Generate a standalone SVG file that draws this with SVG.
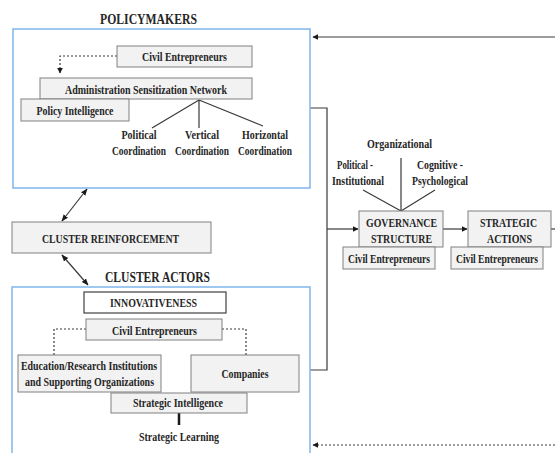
<svg xmlns="http://www.w3.org/2000/svg" width="555" height="453" viewBox="0 0 555 453">
<defs>
<style>
.t{font-family:"Liberation Serif","Times New Roman",serif;font-weight:bold;font-size:13px;fill:#262626;text-anchor:middle}
.h{font-size:15px}
.bx{fill:#f2f2f2;stroke:#808080;stroke-width:1}
.blue{fill:none;stroke:#7fb6ec;stroke-width:1.5}
.ln{fill:none;stroke:#3a3a3a;stroke-width:1.2}
.dot{fill:none;stroke:#3a3a3a;stroke-width:1.2;stroke-dasharray:2 2}
</style>
<marker id="ah" viewBox="0 0 10 10" refX="9" refY="5" markerWidth="6" markerHeight="6" orient="auto-start-reverse" markerUnits="userSpaceOnUse">
<path d="M0,0 L10,5 L0,10 z" fill="#1a1a1a"/>
</marker>
<marker id="ahs" viewBox="0 0 10 10" refX="9" refY="5" markerWidth="7" markerHeight="7" orient="auto-start-reverse" markerUnits="userSpaceOnUse">
<path d="M0,1 L10,5 L0,9 z" fill="#1a1a1a"/>
</marker>
</defs>
<rect width="555" height="453" fill="#ffffff"/>

<g id="connectors">
<path class="ln" d="M555,37 H313" marker-end="url(#ah)"/>
<path class="dot" d="M555,445 H313" marker-end="url(#ah)"/>
<path class="ln" d="M310,108 H327 V370 H310"/>
<path class="ln" d="M327,229 H358" marker-end="url(#ah)"/>
<path class="ln" d="M443,229 H467" marker-end="url(#ah)"/>
<path class="ln" d="M551,229 H555"/>
<path class="dot" d="M117,56 H60 V73" marker-end="url(#ah)"/>
<path class="ln" d="M62,221 L87,189" marker-start="url(#ahs)" marker-end="url(#ahs)" stroke-width="1"/>
<path class="ln" d="M62,255 L88,285" marker-start="url(#ahs)" marker-end="url(#ahs)" stroke-width="1"/>
<path class="ln" d="M199,100 L152,128 M199,100 V128 M199,100 L263,126"/>
<path class="ln" d="M401,158 V211 M363,190 L401,211 M435,190 L401,211"/>
<path class="dot" d="M86,329 H54 V355 M222,329 H246 V355"/>
<path d="M179,413 V425" stroke="#1a1a1a" stroke-width="2.5"/>
</g>

<g id="policymakers">
<rect class="blue" x="13" y="29" width="297" height="159"/>
<text class="t h" x="148.5" y="24" textLength="97" lengthAdjust="spacingAndGlyphs">POLICYMAKERS</text>
</g>
<g id="pm-civil">
<rect class="bx" x="117" y="46" width="135" height="21"/>
<text class="t" x="184.5" y="61" textLength="85" lengthAdjust="spacingAndGlyphs">Civil Entrepreneurs</text>
</g>
<g id="admin-network">
<rect class="bx" x="40" y="78" width="212" height="21"/>
<text class="t" x="146" y="94" textLength="162" lengthAdjust="spacingAndGlyphs">Administration Sensitization Network</text>
</g>
<g id="policy-intelligence">
<rect class="bx" x="21" y="99" width="108" height="22"/>
<text class="t" x="75" y="115" textLength="77" lengthAdjust="spacingAndGlyphs">Policy Intelligence</text>
</g>
<g id="political-coordination">
<text class="t" x="139" y="139" textLength="35" lengthAdjust="spacingAndGlyphs">Political</text>
<text class="t" x="139" y="155" textLength="54" lengthAdjust="spacingAndGlyphs">Coordination</text>
</g>
<g id="vertical-coordination">
<text class="t" x="202" y="139" textLength="34" lengthAdjust="spacingAndGlyphs">Vertical</text>
<text class="t" x="202" y="155" textLength="54" lengthAdjust="spacingAndGlyphs">Coordination</text>
</g>
<g id="horizontal-coordination">
<text class="t" x="265" y="139" textLength="46" lengthAdjust="spacingAndGlyphs">Horizontal</text>
<text class="t" x="265" y="155" textLength="54" lengthAdjust="spacingAndGlyphs">Coordination</text>
</g>

<g id="cluster-reinforcement">
<rect class="bx" x="12" y="222" width="199" height="31"/>
<text class="t" x="110.5" y="243" textLength="137" lengthAdjust="spacingAndGlyphs">CLUSTER REINFORCEMENT</text>
</g>

<g id="cluster-actors">
<rect class="blue" x="12" y="287" width="298" height="180"/>
<text class="t h" x="157.5" y="282" textLength="105" lengthAdjust="spacingAndGlyphs">CLUSTER ACTORS</text>
</g>
<g id="innovativeness">
<rect x="84" y="292" width="142" height="21" fill="#ffffff" stroke="#404040" stroke-width="1.2"/>
<text class="t" x="153.5" y="307" textLength="87" lengthAdjust="spacingAndGlyphs">INNOVATIVENESS</text>
</g>
<g id="ca-civil">
<rect class="bx" x="86" y="319" width="136" height="21"/>
<text class="t" x="154.5" y="335" textLength="85" lengthAdjust="spacingAndGlyphs">Civil Entrepreneurs</text>
</g>
<g id="education">
<rect class="bx" x="18" y="355" width="143" height="37"/>
<text class="t" x="89" y="370" textLength="136" lengthAdjust="spacingAndGlyphs">Education/Research Institutions</text>
<text class="t" x="89.5" y="386" textLength="129" lengthAdjust="spacingAndGlyphs">and Supporting Organizations</text>
</g>
<g id="companies">
<rect class="bx" x="191" y="355" width="108" height="37"/>
<text class="t" x="245" y="378" textLength="47" lengthAdjust="spacingAndGlyphs">Companies</text>
</g>
<g id="strategic-intelligence">
<rect class="bx" x="111" y="393" width="136" height="20"/>
<text class="t" x="178" y="407" textLength="90" lengthAdjust="spacingAndGlyphs">Strategic Intelligence</text>
</g>
<g id="strategic-learning">
<text class="t" x="179" y="441" textLength="80" lengthAdjust="spacingAndGlyphs">Strategic Learning</text>
</g>

<g id="dimensions">
<text class="t" x="399.5" y="148" textLength="65" lengthAdjust="spacingAndGlyphs">Organizational</text>
<text class="t" x="355" y="169" textLength="36" lengthAdjust="spacingAndGlyphs">Political -</text>
<text class="t" x="358" y="185" textLength="52" lengthAdjust="spacingAndGlyphs">Institutional</text>
<text class="t" x="440" y="169" textLength="46" lengthAdjust="spacingAndGlyphs">Cognitive -</text>
<text class="t" x="440" y="185" textLength="56" lengthAdjust="spacingAndGlyphs">Psychological</text>
</g>
<g id="governance">
<rect class="bx" x="359" y="211" width="84" height="36"/>
<text class="t" x="401.5" y="227" textLength="71" lengthAdjust="spacingAndGlyphs">GOVERNANCE</text>
<text class="t" x="401.5" y="243" textLength="61" lengthAdjust="spacingAndGlyphs">STRUCTURE</text>
</g>
<g id="gov-civil">
<rect class="bx" x="343" y="247" width="92" height="22"/>
<text class="t" x="389" y="263" textLength="82" lengthAdjust="spacingAndGlyphs">Civil Entrepreneurs</text>
</g>
<g id="strategic-actions">
<rect class="bx" x="468" y="211" width="83" height="36"/>
<text class="t" x="508.5" y="227" textLength="57" lengthAdjust="spacingAndGlyphs">STRATEGIC</text>
<text class="t" x="509.5" y="243" textLength="45" lengthAdjust="spacingAndGlyphs">ACTIONS</text>
</g>
<g id="sa-civil">
<rect class="bx" x="451" y="247" width="92" height="22"/>
<text class="t" x="497" y="263" textLength="82" lengthAdjust="spacingAndGlyphs">Civil Entrepreneurs</text>
</g>
</svg>
